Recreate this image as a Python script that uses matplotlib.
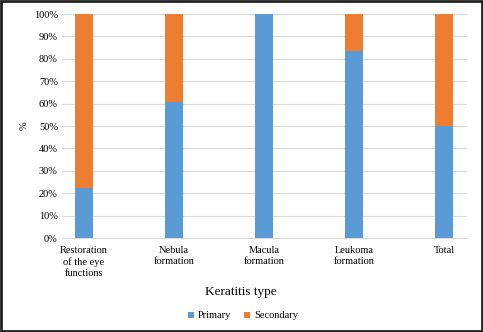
import numpy as np
import matplotlib
matplotlib.use("Agg")
import matplotlib.pyplot as plt
from matplotlib.ticker import PercentFormatter

categories = ["Restoration\nof the eye\nfunctions", "Nebula\nformation", "Macula\nformation",
              "Leukoma\nformation", "Total"]
primary = [22.5, 60.5, 100.0, 83.5, 50.0]
secondary = [100 - p for p in primary]

plt.rcParams['font.family'] = ['Liberation Serif', 'DejaVu Serif']

fig = plt.figure(figsize=(4.83, 3.32), dpi=100)
ax = fig.add_axes([62/483, 1-238/332, 405/483, 224/332])

x = np.arange(len(categories))
ax.bar(x, primary, width=0.2, color="#5b9bd5", label="Primary", zorder=3)
ax.bar(x, secondary, width=0.2, bottom=primary, color="#ed7d31", label="Secondary", zorder=3)

ax.set_xlim(-0.244, 4.256)
ax.set_ylim(0, 100)
ax.set_yticks(range(0, 101, 10))
ax.yaxis.set_major_formatter(PercentFormatter(decimals=0))
ax.set_xticks(x)
ax.set_xticklabels(categories, fontsize=7.5, linespacing=1.3)
ax.tick_params(axis='y', labelsize=7.5, length=0, pad=3)
ax.tick_params(axis='x', length=0, pad=6)
ax.grid(axis='y', color="#d9d9d9", linewidth=0.8, zorder=0)
for s in ["top", "right", "left"]:
    ax.spines[s].set_visible(False)
ax.spines["bottom"].set_color("#d9d9d9")

ax.set_ylabel("%", fontsize=7.5, labelpad=4)
fig.text(241/483, 1-292/332, "Keratitis type", fontsize=9.5, ha="center", va="center")
ax.legend(loc="center", bbox_to_anchor=(243/483, 1-316/332), bbox_transform=fig.transFigure,
          ncol=2, frameon=False, fontsize=7.5, handlelength=0.6, handleheight=0.6,
          columnspacing=1.2, handletextpad=0.4)

border = plt.Rectangle((0.002, 0.003), 0.996, 0.994, transform=fig.transFigure,
                       fill=False, edgecolor="#222222", linewidth=2)
fig.patches.append(border)

fig.savefig("out.png", dpi=100)
